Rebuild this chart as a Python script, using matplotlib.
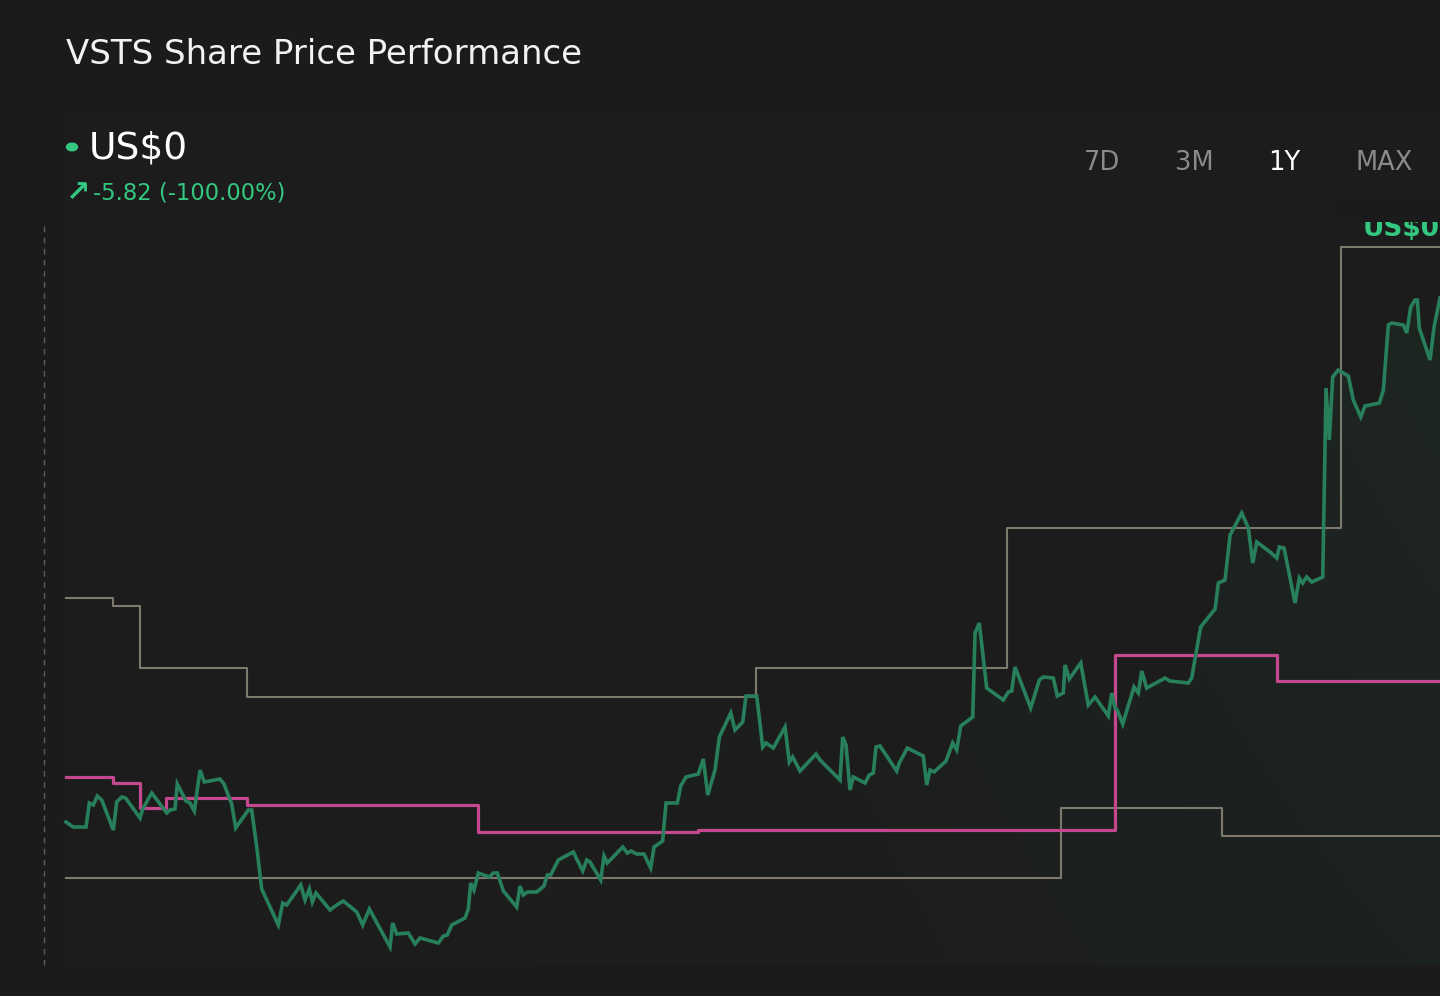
import numpy as np
import matplotlib.pyplot as plt
from matplotlib.patches import Rectangle, Circle

# --- data (x = trading day in the 1Y window, y = price) ---
price_days = [
    0, 1.3, 3.65, 4.26, 4.99, 5.72, 6.52, 8.64, 9.26, 10.18, 10.88, 13.52, 14.01, 15.66,
    18.40, 18.99, 19.91, 20.33, 21.92, 22.65, 23.44, 24.48, 25.26, 28.13, 28.86, 30.27,
    31.00, 33.30, 33.92, 34.84, 35.75, 38.78, 39.59, 40.32, 42.88, 43.66, 44.45, 45.00,
    45.67, 48.23, 49.45, 50.66, 53.11, 54.20, 55.41, 59.19, 59.68, 60.41, 62.53, 63.76,
    64.67, 68.01, 68.93, 69.66, 70.46, 72.89, 73.49, 73.93, 74.53, 75.32, 77.33, 78.06,
    78.79, 79.89, 82.33, 82.94, 83.54, 84.27, 85.99, 87.32, 87.93, 88.55, 89.93, 92.67,
    94.39, 95.12, 95.72, 97.68, 98.28, 98.89, 101.70, 102.54, 103.21, 104.25, 105.59,
    106.81, 107.42, 109.00, 109.61, 111.67, 112.29, 113.26, 115.51, 116.42, 117.23,
    118.56, 119.35, 121.43, 122.21, 123.62, 124.22, 126.18, 127.27, 127.88, 129.21,
    131.35, 132.13, 132.75, 134.09, 137.01, 137.74, 141.39, 141.89, 142.49, 143.22,
    143.82, 145.96, 146.74, 147.47, 147.97, 148.70, 151.75, 152.22, 153.69, 156.61,
    157.23, 157.84, 158.57, 160.76, 161.98, 162.71, 163.44, 165.64, 166.06, 166.84,
    168.19, 171.22, 172.14, 172.76, 173.36, 176.23, 177.80, 178.53, 180.36, 181.09,
    182.18, 182.50, 183.28, 185.37, 186.75, 187.98, 190.41, 191.03, 191.63, 192.05,
    193.04, 195.10, 195.89, 196.51, 197.42, 200.77, 201.68, 205.02, 205.64, 207.27,
    209.91, 210.51, 211.73, 212.65, 214.78, 215.99, 216.79, 217.53, 219.95, 221.18,
    221.66, 222.51, 224.52, 225.30, 225.92, 226.65, 227.57, 229.58, 230.18, 230.78,
    231.40, 232.42, 234.25, 235.16, 236.52, 237.30, 239.92, 240.65, 241.56, 242.18,
    244.30, 244.92, 245.65, 246.44, 246.86, 247.22, 249.18, 249.91, 251.00,
]
price = [
    1.78, 1.73, 1.73, 1.97, 1.95, 2.04, 2.00, 1.70, 1.98, 2.03, 2.02, 1.82, 1.91, 2.07,
    1.87, 1.90, 1.91, 2.16, 1.99, 1.97, 1.89, 2.30, 2.18, 2.21, 2.16, 1.96,
    1.72, 1.90, 1.90, 1.53, 1.11, 0.75, 0.97, 0.95, 1.15, 1.00, 1.11, 0.98,
    1.07, 0.90, 0.95, 0.99, 0.88, 0.75, 0.91, 0.53, 0.77, 0.66, 0.67, 0.56,
    0.62, 0.57, 0.64, 0.65, 0.75, 0.82, 0.91, 1.17, 1.10, 1.27, 1.23, 1.27,
    1.27, 1.09, 0.93, 1.14, 1.05, 1.08, 1.08, 1.14, 1.25, 1.25, 1.40, 1.48,
    1.29, 1.40, 1.38, 1.20, 1.44, 1.37, 1.53, 1.47, 1.49, 1.46, 1.46,
    1.32, 1.53, 1.59, 1.97, 1.97, 2.14, 2.23, 2.26, 2.41, 2.05,
    2.30, 2.63, 2.87, 2.70, 2.78, 3.04, 3.04, 2.53, 2.57, 2.52,
    2.73, 2.38, 2.43, 2.29, 2.46, 2.40, 2.20, 2.63, 2.55, 2.10,
    2.23, 2.17, 2.25, 2.27, 2.53, 2.54, 2.29, 2.37, 2.52, 2.44,
    2.15, 2.30, 2.28, 2.39, 2.57, 2.50, 2.74, 2.83, 3.67, 3.77,
    3.12, 3.00, 3.08, 3.09, 3.33, 2.92, 3.20, 3.23, 3.22, 3.04,
    3.07, 3.35, 3.21, 3.37, 2.95, 3.03, 2.84, 3.07, 2.92, 2.90,
    2.76, 3.13, 3.07, 3.29, 3.12, 3.22, 3.19, 3.17, 3.22, 3.73,
    3.91, 4.17, 4.20, 4.65, 4.87, 4.72, 4.37, 4.58, 4.48, 4.42,
    4.53, 4.52, 3.97, 4.22, 4.17, 4.23, 4.18, 4.23, 6.12, 5.60,
    6.23, 6.30, 6.24, 6.00, 5.83, 5.94, 5.97, 6.10, 6.75, 6.77,
    6.75, 6.67, 6.93, 7.00, 7.00, 6.72, 6.40, 6.73, 7.02,
]

# step series (value holds until the next change day)
upper_days = [0, 8.6, 13.5, 33.1, 126.1, 171.9, 232.9, 251]
upper_vals = [4.02, 3.94, 3.32, 3.03, 3.32, 4.72, 7.53, 7.53]

lower_days = [0, 181.8, 211.2, 251]
lower_vals = [1.22, 1.92, 1.64, 1.64]

pink_days = [0, 8.6, 13.5, 18.3, 33.1, 75.3, 115.5, 191.6, 221.2, 251]
pink_vals = [2.23, 2.17, 1.92, 2.02, 1.95, 1.68, 1.70, 3.45, 3.19, 3.19]

ranges = ["7D", "3M", "1Y", "MAX"]
active_range = "1Y"

BG = "#1b1b1b"
GREEN = "#27805b"
BRIGHT = "#34c77f"
PINK = "#c4488d"
GREY = "#7d796d"

W, H = 1440, 996


def fx(px):
    return px / W


def fy(py):
    return 1 - py / H


fig = plt.figure(figsize=(14.4, 9.96), dpi=100, facecolor=BG)
ax = fig.add_axes([0, 0, 1, 1])
ax.set_facecolor(BG)
ax.set_xlim(-12.06, 251)
ax.set_ylim(0.04, 10.0)
ax.axis("off")

# faint panel behind the chart
ax.add_patch(Rectangle((fx(66), fy(965)), fx(1374), fy(118) - fy(965),
                       transform=fig.transFigure, color="#1d1e1e",
                       alpha=0.6, zorder=0, lw=0))

# gradient fill under the price line
base = 0.35
poly = ax.fill_between(price_days, price, base, color="none", lw=0)
gx = np.linspace(0, 1, 300)
gy = np.linspace(0, 1, 200)
GX, GY = np.meshgrid(gx, gy)
img = np.zeros((200, 300, 4))
img[..., 0] = 0.17
img[..., 1] = 0.52
img[..., 2] = 0.36
img[..., 3] = 0.10 * GX ** 1.5 * (0.6 + 0.4 * GY)
im = ax.imshow(img, extent=[0, 251, base, 7.1], origin="lower",
               aspect="auto", zorder=1, interpolation="bilinear")
im.set_clip_path(poly.get_paths()[0], transform=ax.transData)

ax.plot(upper_days, upper_vals, drawstyle="steps-post", color=GREY, lw=1.5, zorder=2)
ax.plot(lower_days, lower_vals, drawstyle="steps-post", color=GREY, lw=1.5, zorder=2)
ax.plot(pink_days, pink_vals, drawstyle="steps-post", color=PINK, lw=2.3, zorder=3)
ax.plot(price_days, price, color=GREEN, lw=2.6, zorder=4, solid_joinstyle="miter")

# dashed marker on the left
ax.plot([-4.02, -4.02], [0.35, 7.75], color="#5e5e5e", lw=1, ls=(0, (4, 4)), zorder=2)

# clipped current-price label at the top right
fig.text(fx(1363), fy(236), "US$0", color=BRIGHT, fontsize=19, fontweight="bold",
         va="baseline", ha="left", zorder=5)
fig.patches.append(Rectangle((fx(1330), fy(222)), fx(110), fy(195) - fy(222),
                             transform=fig.transFigure, color=BG, zorder=6, lw=0))

# header
fig.text(fx(66), fy(54), "VSTS Share Price Performance", color="#f2f2f2",
         fontsize=24.5, va="center", ha="left")
fig.patches.append(Circle((fx(72), fy(147)), 5.5 / W, transform=fig.transFigure,
                          color=BRIGHT, zorder=5))
fig.text(fx(89), fy(148), "US$0", color="#ffffff", fontsize=27, va="center", ha="left")
fig.text(fx(66), fy(193), "↗", color=BRIGHT, fontsize=21, fontweight="bold",
         va="center", ha="left")
fig.text(fx(93), fy(193), "-5.82 (-100.00%)", color=BRIGHT, fontsize=16.3,
         va="center", ha="left")

for label, cx in zip(ranges, [1102, 1194, 1284, 1384]):
    fig.text(fx(cx), fy(163), label, fontsize=18.5, ha="center", va="center",
             color="#ffffff" if label == active_range else "#8a8a8a")

fig.savefig("out.png", dpi=100, facecolor=BG)
